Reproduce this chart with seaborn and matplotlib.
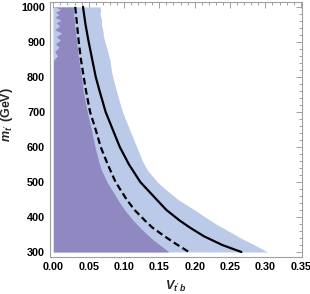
import matplotlib
matplotlib.use("Agg")
import matplotlib.pyplot as plt
import seaborn as sns
import pandas as pd
from matplotlib.ticker import MultipleLocator

# --- data ---
m_solid = [1000, 950, 900, 850, 800, 763, 700, 650, 600, 550, 500, 450, 420, 391, 370, 345, 320, 300]
v_solid = [0.042, 0.0455, 0.050, 0.055, 0.060, 0.065, 0.074, 0.084, 0.094, 0.107, 0.123, 0.146,
           0.160, 0.178, 0.193, 0.213, 0.239, 0.266]

m_dash = [1000, 950, 900, 850, 800, 763, 700, 649, 600, 550, 500, 449, 420, 391, 370, 344, 325, 306, 300]
v_dash = [0.031, 0.0335, 0.036, 0.039, 0.043, 0.046, 0.052, 0.060, 0.067, 0.077, 0.088, 0.104,
          0.115, 0.129, 0.140, 0.158, 0.172, 0.187, 0.192]

m_light = [1000, 990, 980, 965, 950, 934, 915, 900, 880, 849, 820, 800, 777, 740, 700, 649, 600,
           560, 534, 500, 477, 449, 420, 401, 380, 353, 340, 324, 310, 300]
v_light = [0.066, 0.067, 0.066, 0.068, 0.068, 0.070, 0.071, 0.073, 0.076, 0.080, 0.082, 0.084,
           0.087, 0.092, 0.098, 0.108, 0.118, 0.126, 0.133, 0.147, 0.160, 0.177, 0.200, 0.214,
           0.230, 0.254, 0.265, 0.281, 0.294, 0.303]

m_dark = [1000, 950, 900, 850, 800, 763, 700, 649, 600, 560, 534, 500, 477, 450, 420, 390, 363, 335, 306, 300]
v_dark = [0.028, 0.030, 0.033, 0.036, 0.040, 0.042, 0.048, 0.054, 0.059, 0.064, 0.068, 0.076,
          0.083, 0.091, 0.101, 0.113, 0.126, 0.141, 0.160, 0.163]

m_darkleft = [1000, 992, 985, 978, 970, 962, 955, 945, 935, 925, 915, 905, 895, 885, 872, 860, 850, 840, 300]
v_darkleft = [0.003, 0.010, 0.003, 0.008, 0.002, 0.011, 0.004, 0.009, 0.002, 0.012, 0.004, 0.010,
              0.003, 0.008, 0.002, 0.006, 0.001, 0.0, 0.0]

x_ticks = [0.00, 0.05, 0.10, 0.15, 0.20, 0.25, 0.30, 0.35]
y_ticks = [300, 400, 500, 600, 700, 800, 900, 1000]

sns.set_style("white")
plt.rcParams['font.family'] = ['Liberation Sans', 'DejaVu Sans']
plt.rcParams['mathtext.fontset'] = 'custom'
plt.rcParams['mathtext.it'] = 'Liberation Sans:italic:bold'
plt.rcParams['mathtext.rm'] = 'Liberation Sans:bold'

fig = plt.figure(figsize=(3.10, 2.94), dpi=100)
ax = fig.add_axes([50/310, 37/294, 252/310, 255/294])

light = "#bccae9"
dark = "#8f88c1"

ax.fill_betweenx(m_light, 0, v_light, color=light, lw=0)
ax.fill_betweenx(m_dark, 0, v_dark, color=dark, lw=0)
ax.fill_betweenx(m_darkleft, 0, v_darkleft, color=light, lw=0)

df_s = pd.DataFrame({"V": v_solid, "m": m_solid})
df_d = pd.DataFrame({"V": v_dash, "m": m_dash})
sns.lineplot(data=df_s, x="V", y="m", sort=False, color="black", lw=1.6, ax=ax)
sns.lineplot(data=df_d, x="V", y="m", sort=False, color="black", lw=1.6, ax=ax,
             linestyle=(0, (3.0, 1.6)))

ax.set_xlim(-0.0047, 0.3518)
ax.set_ylim(285.7, 1014)
ax.set_xticks(x_ticks)
ax.set_xticklabels([f"{t:.2f}" for t in x_ticks])
ax.set_yticks(y_ticks)
ax.set_yticklabels([str(t) for t in y_ticks])
ax.xaxis.set_minor_locator(MultipleLocator(0.01))
ax.yaxis.set_minor_locator(MultipleLocator(20))

gray = "#a0a0a0"
for s in ax.spines.values():
    s.set_color(gray)
    s.set_linewidth(0.8)
ax.tick_params(which="both", direction="in", top=True, right=True, color=gray, width=0.7,
               labelsize=7.8, labelcolor="black", pad=3.5)
ax.tick_params(which="major", length=4)
ax.tick_params(which="minor", length=2)
for lab in ax.get_xticklabels() + ax.get_yticklabels():
    lab.set_fontweight("bold")

ax.set_xlabel(r"$V_{t'\,b}$", fontsize=9)
ax.set_ylabel(r"$m_{t'}$ (GeV)", fontsize=9, fontweight="bold")
ax.yaxis.set_label_coords(-0.14, 0.56)
ax.xaxis.set_label_coords(0.5, -0.085)

fig.savefig("out.png", dpi=100)
